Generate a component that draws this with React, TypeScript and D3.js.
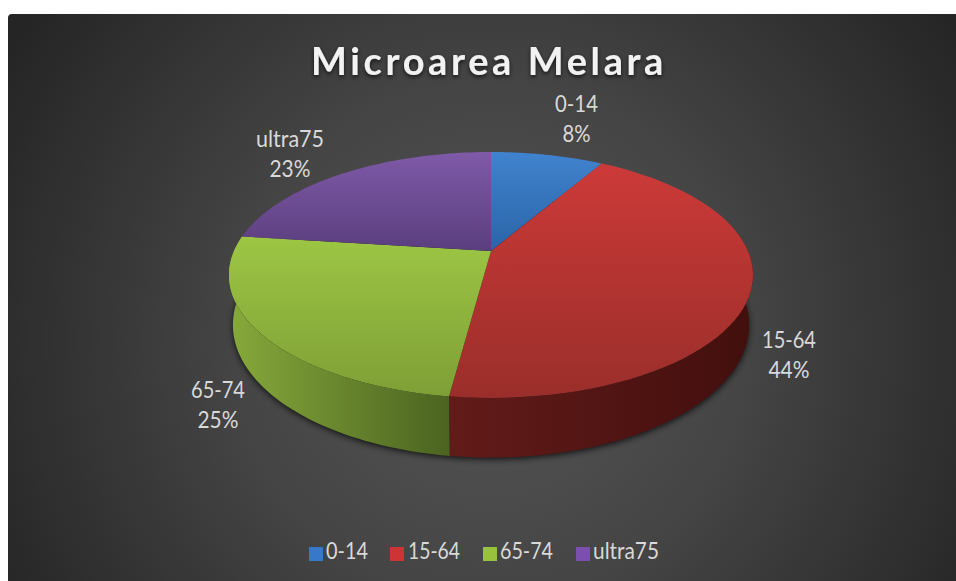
import React from 'react';
import * as d3 from 'd3';

const categories = ['0-14', '15-64', '65-74', 'ultra75'];
// shares read from the slice edges, the labels round them
const shares = [8.4, 43.7, 24.9, 23];
const chartTitle = 'Microarea Melara';

const topColors = [
  ['#4083ce', '#2a64a6'],
  ['#cc3a38', '#9a2e2a'],
  ['#9dc644', '#7e9f36'],
  ['#7f5aa8', '#5a3e7e'],
];
const sideColors = [
  ['#2c5f9e', '#1d4272'],
  ['#621b19', '#420f0d'],
  ['#86a93b', '#4b6320'],
  ['#5b3f80', '#3d2a58'],
];
const legendColors = ['#3878c8', '#cf3434', '#99c23c', '#7a4fae'];

const WIDTH = 956;
const HEIGHT = 581;
// apex of the tilted pie, and the perspective numbers measured from the ellipse
const CX = 491;
const CY = 251;
const RX = 257;
const RY = 118.3;
const PERSP = 0.195;
const DEPTH = 48;
const BOTTOM_SCALE = 0.985;

// u,v on the unit disc -> screen, v grows towards the viewer
const project = (angle: number, drop = 0): [number, number] => {
  const u = Math.sin(angle);
  const v = -Math.cos(angle);
  const w = 1 - PERSP * v;
  const squeeze = drop ? BOTTOM_SCALE : 1;
  return [CX + (RX * squeeze * u) / w, CY + (RY * v + drop) / w];
};

const line = d3.line<[number, number]>();

const arcPoints = (a0: number, a1: number, drop = 0): [number, number][] =>
  d3.range(0, 61).map(i => project(a0 + ((a1 - a0) * i) / 60, drop));

const arcs = d3.pie<number>().sort(null).value(d => d)(shares);

const slicePath = (a0: number, a1: number) =>
  line([[CX, CY], ...arcPoints(a0, a1)]) + 'Z';

// part of the rim that faces the viewer, the top face hides the rest
const RIM_FROM = (80 * Math.PI) / 180;
const RIM_TO = (280 * Math.PI) / 180;
const sidePath = (a0: number, a1: number) => {
  const from = Math.max(a0, RIM_FROM);
  const to = Math.min(a1, RIM_TO);
  if (to <= from) return null;
  return line([...arcPoints(from, to), ...arcPoints(from, to, DEPTH).reverse()]) + 'Z';
};

const outline = line(arcPoints(0, 2 * Math.PI, DEPTH)) + 'Z';

const labelSpots = [
  { x: 576.5, y: 112, nameW: 43, pctW: 28 },
  { x: 789, y: 348, nameW: 54, pctW: 41 },
  { x: 218, y: 398, nameW: 54, pctW: 41 },
  { x: 290, y: 147, nameW: 68, pctW: 41 },
];
const legendSpots = [
  { box: 309, text: 326, w: 42 },
  { box: 390, text: 408, w: 52 },
  { box: 483, text: 500, w: 53 },
  { box: 576, text: 593, w: 66 },
];

const FONT = 'Lato, "Open Sans", sans-serif';

const App: React.FC = () => {
  return (
    <svg
      width={WIDTH}
      height={HEIGHT}
      style={{ position: 'absolute', left: 0, top: 0, display: 'block' }}
    >
      <defs>
        <radialGradient id="bg" gradientUnits="userSpaceOnUse" cx={490} cy={340} r={560}>
          <stop offset="0" stopColor="#555555" />
          <stop offset="0.45" stopColor="#454545" />
          <stop offset="1" stopColor="#252525" />
        </radialGradient>
        <filter id="pieShadow" x="-10%" y="-10%" width="120%" height="120%">
          <feGaussianBlur stdDeviation="3" />
        </filter>
        <filter id="titleShadow" x="-5%" y="-20%" width="110%" height="150%">
          <feDropShadow dx="0" dy="2" stdDeviation="2" floodColor="#000" floodOpacity="0.7" />
        </filter>
        {arcs.map((_, i) => (
          <linearGradient key={i} id={`top${i}`} x1={0} y1={0} x2={0} y2={1}>
            <stop offset="0" stopColor={topColors[i][0]} />
            <stop offset="1" stopColor={topColors[i][1]} />
          </linearGradient>
        ))}
        {arcs.map((_, i) => (
          <linearGradient key={i} id={`side${i}`} x1={0} y1={0} x2={1} y2={0}>
            <stop offset="0" stopColor={sideColors[i][0]} />
            <stop offset="1" stopColor={sideColors[i][1]} />
          </linearGradient>
        ))}
      </defs>

      <path
        d={`M8 18 Q8 14 12 14 H${WIDTH} V${HEIGHT} H8 Z`}
        fill="url(#bg)"
      />

      <path d={outline} fill="#000" opacity={0.75} filter="url(#pieShadow)" transform="translate(0,2)" />

      {arcs.map((a, i) => {
        const d = sidePath(a.startAngle, a.endAngle);
        return d ? <path key={i} d={d} fill={`url(#side${i})`} /> : null;
      })}

      {arcs.map((a, i) => (
        <path key={i} d={slicePath(a.startAngle, a.endAngle)} fill={`url(#top${i})`} />
      ))}

      <text
        x={489}
        y={75}
        textAnchor="middle"
        fontFamily={FONT}
        fontWeight={700}
        fontSize={38}
        letterSpacing={3.6}
        fill="#f2f2f2"
        filter="url(#titleShadow)"
      >
        {chartTitle}
      </text>

      {arcs.map((a, i) => (
        <g key={i} fontFamily={FONT} fontSize={23} fill="#d9d9d9">
          <text
            x={labelSpots[i].x - labelSpots[i].nameW / 2}
            y={labelSpots[i].y}
            textLength={labelSpots[i].nameW}
            lengthAdjust="spacingAndGlyphs"
          >
            {categories[i]}
          </text>
          <text
            x={labelSpots[i].x - labelSpots[i].pctW / 2}
            y={labelSpots[i].y + 29.5}
            textLength={labelSpots[i].pctW}
            lengthAdjust="spacingAndGlyphs"
          >
            {`${Math.round(a.data)}%`}
          </text>
        </g>
      ))}

      {categories.map((c, i) => (
        <g key={c}>
          <rect x={legendSpots[i].box} y={547} width={14} height={14} fill={legendColors[i]} />
          <text
            x={legendSpots[i].text}
            y={559}
            textLength={legendSpots[i].w}
            lengthAdjust="spacingAndGlyphs"
            fontFamily={FONT}
            fontSize={23}
            fill="#d9d9d9"
          >
            {c}
          </text>
        </g>
      ))}
    </svg>
  );
};

export default App;
